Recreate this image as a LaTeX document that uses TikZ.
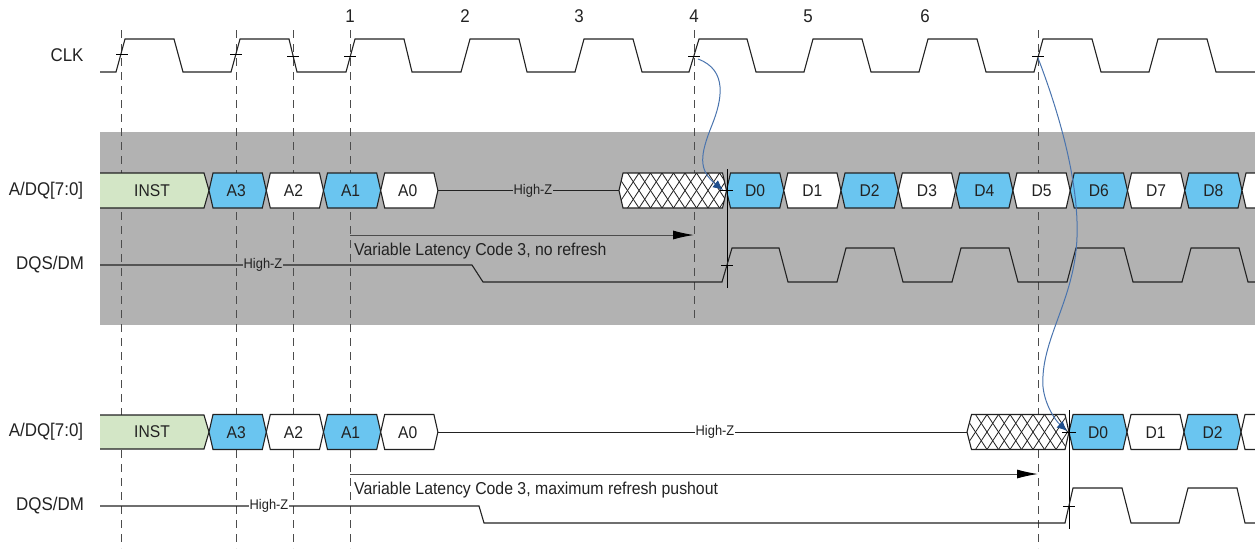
\documentclass[tikz,border=0pt]{standalone}
\usepackage{fontspec}
\setmainfont{Liberation Sans}[FakeStretch=0.92]
\usetikzlibrary{arrows.meta}
\definecolor{bandgrey}{HTML}{B2B2B2}
\definecolor{cellblue}{HTML}{6AC5F0}
\definecolor{cellgreen}{HTML}{D3E6C6}
\definecolor{curveblue}{HTML}{4A74AE}
\definecolor{tipblue}{HTML}{1F4E8C}
\definecolor{inkgrey}{HTML}{222222}
% left tip, right tip, mid y, fill
\newcommand{\buscell}[4]{%
  \filldraw[wave,fill=#4] (#1,#3) -- (#1+4,#3-17.5) -- (#2-4,#3-17.5) -- (#2,#3) -- (#2-4,#3+17.5) -- (#1+4,#3+17.5) -- cycle;
}
\begin{document}
\begin{tikzpicture}[x=1pt,y=-1pt,
  wave/.style={draw=inkgrey,line width=1.1pt,line join=miter},
  guide/.style={draw=black!70,dash pattern=on 8pt off 6pt,line width=1pt},
  tick/.style={draw=black,line width=.8pt},
  label/.style={text=inkgrey,font=\fontsize{18.4}{20}\selectfont,inner sep=0pt},
  cell/.style={text=inkgrey,font=\fontsize{17}{19}\selectfont,inner sep=0pt},
  highz/.style={text=inkgrey,font=\fontsize{14}{16}\selectfont,inner sep=1pt},
  note/.style={text=inkgrey,font=\fontsize{17.2}{19}\selectfont,inner sep=0pt,anchor=west},
  span/.style={draw=black!70,line width=1pt,-{Latex[length=21pt,width=9pt,black]}},
  curve/.style={draw=curveblue,line width=1pt,-{Latex[length=10pt,width=9pt,tipblue]}}]
\useasboundingbox (0,0) rectangle (1255,550);
\clip (0,0) rectangle (1255,550);
\fill[bandgrey] (100,132) rectangle (1255,325);
% guides
\foreach \gx/\gend in {121/548,236/548,293/548,350/548,694/320,1038/548}
  \draw[guide] (\gx,30) -- (\gx,\gend);
% clock numbers
\node[label] (n1) at (350,16) {1};
\node[label] (n2) at (465,16) {2};
\node[label] (n3) at (579,16) {3};
\node[label] (n4) at (694,16) {4};
\node[label] (n5) at (808,16) {5};
\node[label] (n6) at (925,16) {6};
% signal names
\node[label] (clk) at (67,55) {CLK};
\node[label] (bus1) at (46,191) {A/DQ[7:0]};
\node[label] (dqs1) at (50,265) {DQS/DM};
\node[label] (bus2) at (46,432) {A/DQ[7:0]};
\node[label] (dqs2) at (50,506) {DQS/DM};
% clock
\draw[wave] (100,72) -- (116,72) -- (125,39) -- (174,39) -- (183,72) -- (231,72) -- (240,39)
  -- (289,39) -- (297,72) -- (346,72) -- (355,39) -- (404,39) -- (412,72)
  -- (461,72) -- (470,39) -- (519,39) -- (527,72) -- (575,72) -- (584,39) -- (633,39) -- (642,72)
  -- (689,72) -- (699,39) -- (747,39) -- (756,72) -- (804,72) -- (813,39) -- (862,39) -- (871,72)
  -- (919,72) -- (928,39) -- (977,39) -- (986,72) -- (1034,72) -- (1043,39) -- (1092,39) -- (1101,72)
  -- (1149,72) -- (1158,39) -- (1207,39) -- (1216,72) -- (1255,72);
\foreach \tx/\ty in {122/54,236/54,293/56,350/56,694/56,1038/56}
  \draw[tick] (\tx-6,\ty) -- (\tx+6,\ty);
% upper burst
\filldraw[wave,fill=cellgreen] (100,173) -- (204,173) -- (209,190.5) -- (204,208) -- (100,208);
\node[cell] (inst1) at (152,191) {INST};
\foreach \cname/\ca/\cb/\ccol in {A3/209/266.3/cellblue,A2/266.3/323.5/white,A1/323.5/380.7/cellblue,A0/380.7/437.9/white}{
  \buscell{\ca}{\cb}{190.5}{\ccol}
  \node[cell] at ({(\ca+\cb)/2-1.5},191) {\cname};
}
\draw[wave,line width=.9pt] (437.9,190.5) -- (619,190.5);
\node[highz,fill=bandgrey] (hz1) at (533,190.5) {High-Z};
\begin{scope}
  \clip (619,190.5) -- (623,173) -- (722.5,173) -- (726.5,190.5) -- (722.5,208) -- (623,208) -- cycle;
  \fill[white] (610,170) rectangle (730,210);
  \foreach \hx in {0,1,...,9}{
    \draw[wave,line width=.8pt] (616+\hx*11.5,173) -- ++(23,35);
    \draw[wave,line width=.8pt] (616+\hx*11.5,208) -- ++(23,-35);
  }
\end{scope}
\draw[wave] (619,190.5) -- (623,173) -- (722.5,173) -- (726.5,190.5) -- (722.5,208) -- (623,208) -- cycle;
\foreach \cname/\ca/\cb/\ccol in {D0/726.5/783.8/cellblue,D1/783.8/841/white,D2/841/898.3/cellblue,D3/898.3/955.6/white,D4/955.6/1012.9/cellblue,D5/1012.9/1070.2/white,D6/1070.2/1127.5/cellblue,D7/1127.5/1184.8/white,D8/1184.8/1242/cellblue}{
  \buscell{\ca}{\cb}{190.5}{\ccol}
  \node[cell] at ({(\ca+\cb)/2},191) {\cname};
}
\buscell{1242}{1299}{190.5}{white}
\draw[line width=.9pt] (727,169) -- (727,288);
\draw[tick] (720,190.5) -- (733,190.5);
% upper strobe
\draw[wave] (100,265) -- (472,265) -- (483,282) -- (722,282) -- (732,248) -- (779,248) -- (788,282)
  -- (837,282) -- (846,248) -- (894,248) -- (903,282) -- (952,282) -- (961,248) -- (1009,248) -- (1018,282)
  -- (1067,282) -- (1076,248) -- (1124,248) -- (1133,282) -- (1182,282) -- (1191,248) -- (1239,248) -- (1248,282) -- (1255,282);
\node[highz,fill=bandgrey] (hz2) at (263,264.5) {High-Z};
\draw[tick] (721,265) -- (733,265);
% upper latency
\coordinate (lat1a) at (350,235);
\coordinate (lat1b) at (694,235);
\draw[span] (lat1a) -- (lat1b);
\node[note] (lat1) at (354,251) {Variable Latency Code 3, no refresh};
% lower burst
\filldraw[wave,fill=cellgreen] (100,415) -- (204,415) -- (209,432) -- (204,449) -- (100,449);
\node[cell] (inst2) at (152,432) {INST};
\foreach \cname/\ca/\cb/\ccol in {A3/209/266.3/cellblue,A2/266.3/323.5/white,A1/323.5/380.7/cellblue,A0/380.7/437.9/white}{
  \buscell{\ca}{\cb}{432}{\ccol}
  \node[cell] at ({(\ca+\cb)/2-1.5},432.5) {\cname};
}
\draw[wave,line width=.9pt] (437.9,432) -- (967,432);
\node[highz,fill=white] (hz3) at (715,432) {High-Z};
\begin{scope}
  \clip (967,432) -- (971.5,414.5) -- (1065,414.5) -- (1069,432) -- (1065,449.5) -- (971.5,449.5) -- cycle;
  \fill[white] (960,410) rectangle (1075,455);
  \foreach \hx in {0,1,...,9}{
    \draw[wave,line width=.8pt] (964+\hx*11.5,414.5) -- ++(23,35);
    \draw[wave,line width=.8pt] (964+\hx*11.5,449.5) -- ++(23,-35);
  }
\end{scope}
\draw[wave] (967,432) -- (971.5,414.5) -- (1065,414.5) -- (1069,432) -- (1065,449.5) -- (971.5,449.5) -- cycle;
\foreach \cname/\ca/\cb/\ccol in {D0/1069/1127/cellblue,D1/1127/1184/white,D2/1184/1241/cellblue}{
  \buscell{\ca}{\cb}{432}{\ccol}
  \node[cell] at ({(\ca+\cb)/2},432.5) {\cname};
}
\buscell{1241}{1298}{432}{white}
\draw[line width=.9pt] (1069,410) -- (1069,529);
\draw[tick] (1062,432) -- (1076,432);
% lower strobe
\draw[wave] (100,506) -- (479,506) -- (484,523) -- (1065,523) -- (1073,488) -- (1122,488) -- (1131,523)
  -- (1179,523) -- (1188,488) -- (1237,488) -- (1245,523) -- (1255,523);
\node[highz,fill=white] (hz4) at (269,506) {High-Z};
\draw[tick] (1063,506) -- (1075,506);
% lower latency
\coordinate (lat2a) at (350,474);
\coordinate (lat2b) at (1038,474);
\draw[span] (lat2a) -- (lat2b);
\node[note] (lat2) at (354,490) {Variable Latency Code 3, maximum refresh pushout};
% launch curves
\coordinate (edge1) at (698,59);
\coordinate (edge2) at (1038,58);
\coordinate (land1) at (723,190);
\coordinate (land2) at (1067,431);
\draw[curve] (edge1) .. controls (728,70) and (722,100) .. (712,125) .. controls (700,155) and (698,170) .. (land1);
\draw[curve] (edge2) .. controls (1058,110) and (1079,180) .. (1077,237) .. controls (1075,300) and (1040,340) .. (1043,387) .. controls (1045,405) and (1055,420) .. (land2);
\end{tikzpicture}
\end{document}
